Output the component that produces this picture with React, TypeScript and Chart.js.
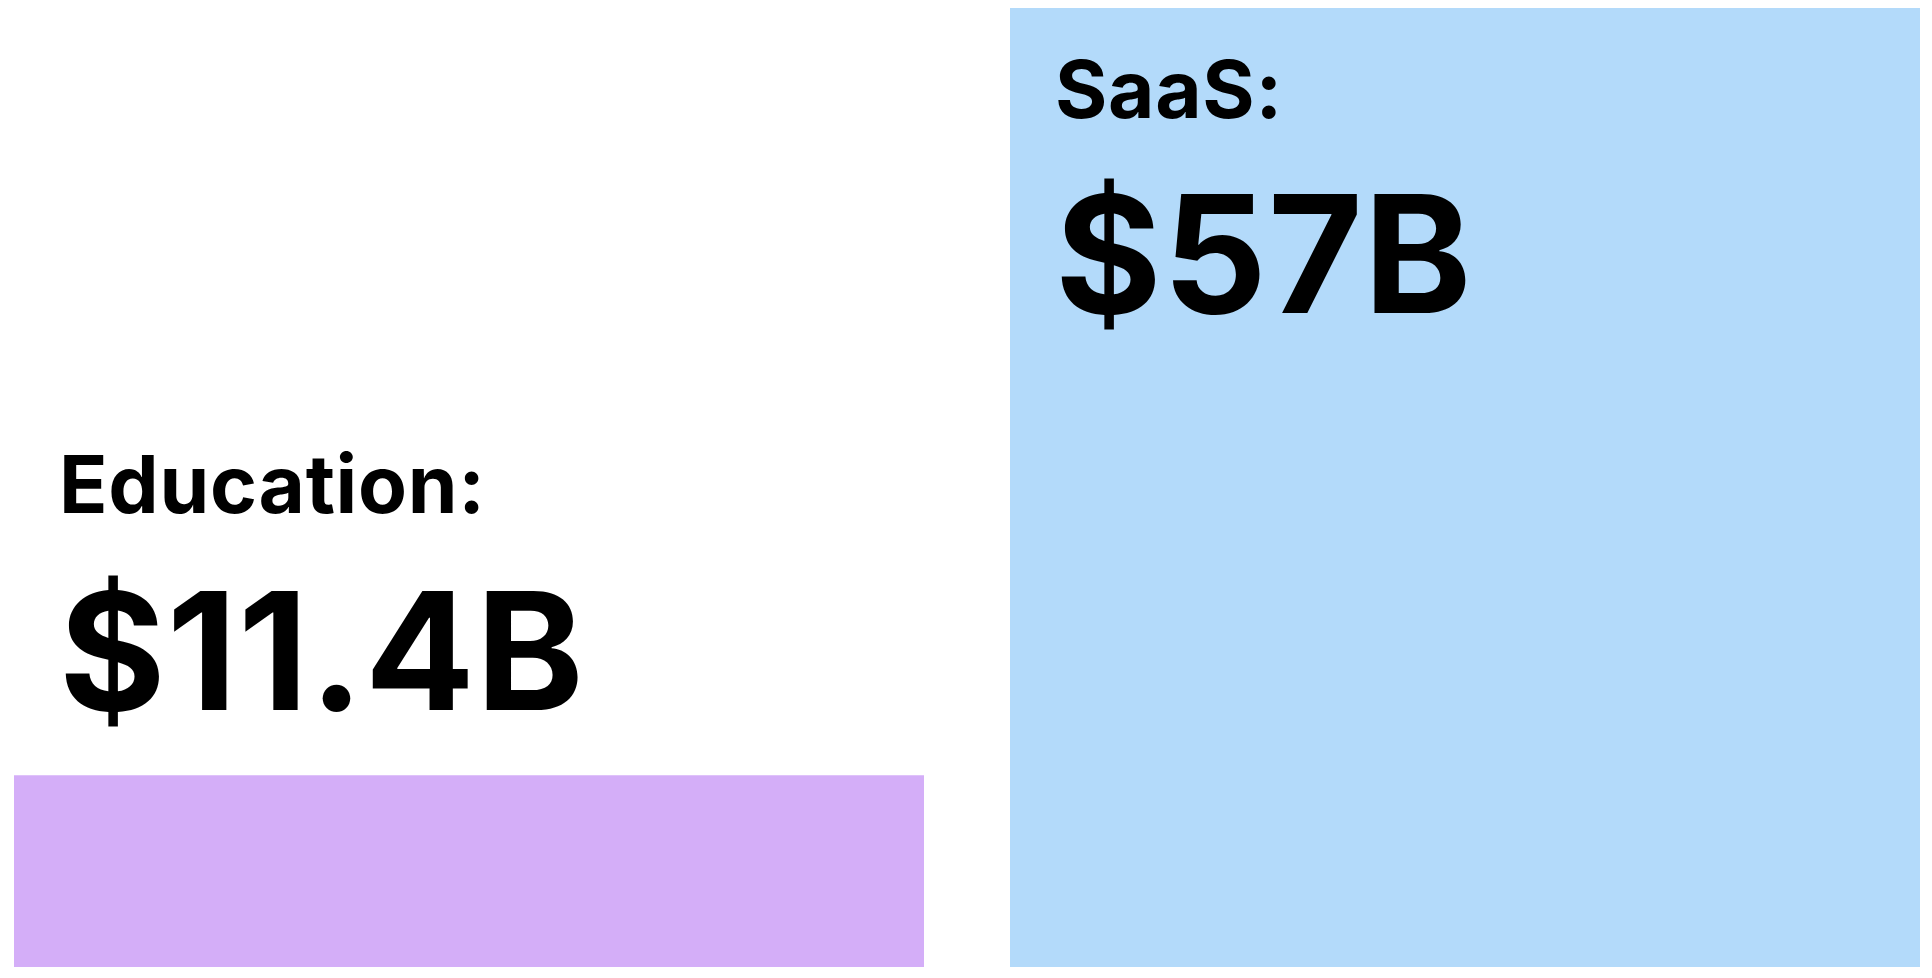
import React, { useEffect, useRef } from "react";
import { Chart, registerables } from "chart.js";

Chart.register(...registerables);

const categories = ["Education", "SaaS"];
const values = [11.4, 57];
const valueLabels = ["$11.4B", "$57B"];
const barColors = ["rgb(212,174,248)", "rgb(179,218,250)"];

const textPlugin = {
  id: "barText",
  afterDraw(chart: any) {
    const ctx = chart.ctx;
    const meta = chart.getDatasetMeta(0);
    ctx.save();
    ctx.fillStyle = "#000";
    ctx.textAlign = "left";
    ctx.textBaseline = "alphabetic";
    meta.data.forEach((bar: any, i: number) => {
      const { x, y, base, width } = bar.getProps(["x", "y", "base", "width"], true);
      const left = x - width / 2 + 45;
      const inside = base - y > 400;
      const labelY = inside ? y + 110 : y - 262;
      const valueY = inside ? y + 305 : y - 65;
      ctx.font = "700 80px Inter";
      (ctx as any).letterSpacing = "0.7px";
      ctx.fillText(categories[i] + ":", left, labelY);
      ctx.font = "700 163px Inter";
      (ctx as any).letterSpacing = "1px";
      ctx.fillText(valueLabels[i], left, valueY);
    });
    ctx.restore();
  },
};

export default function App() {
  const ref = useRef<HTMLCanvasElement | null>(null);
  useEffect(() => {
    if (!ref.current) return;
    const chart = new Chart(ref.current, {
      type: "bar",
      data: {
        labels: categories,
        datasets: [
          {
            data: values,
            backgroundColor: barColors,
            borderWidth: 0,
            categoryPercentage: 1,
            barPercentage: 910 / 996,
          },
        ],
      },
      options: {
        animation: false,
        responsive: true,
        maintainAspectRatio: false,
        layout: { padding: { left: 0, right: 0, top: 0, bottom: 3 } },
        plugins: { legend: { display: false }, tooltip: { enabled: false } },
        scales: {
          x: { display: false, offset: true, grid: { display: false } },
          y: { display: false, min: 0, max: 57, grid: { display: false } },
        },
      },
      plugins: [textPlugin],
    });
    return () => chart.destroy();
  }, []);
  return (
    <div style={{ width: "100%", height: "962px", overflow: "hidden" }}>
      <div style={{ position: "relative", width: "1992px", height: "962px", marginLeft: "-37px" }}>
        <canvas ref={ref} />
      </div>
    </div>
  );
}
